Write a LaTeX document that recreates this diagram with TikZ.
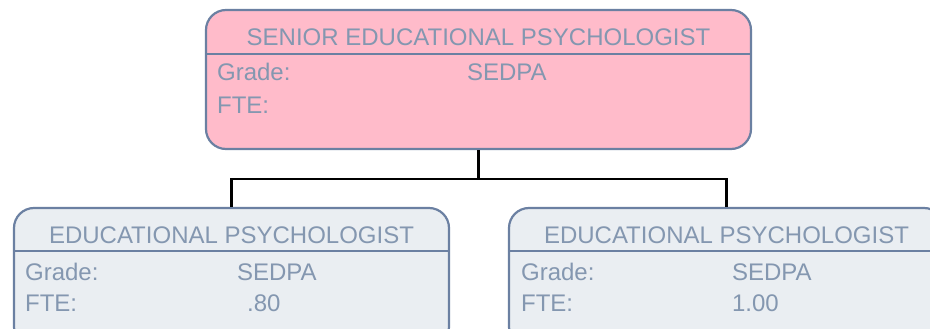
\documentclass[tikz,border=0pt]{standalone}
\usepackage{fontspec}
\setmainfont{Liberation Sans}
\usetikzlibrary{positioning}
\definecolor{postborder}{HTML}{6B80A2}
\definecolor{posttext}{HTML}{8497B0}
\definecolor{seniorfill}{HTML}{FFBBCA}
\definecolor{stafffill}{HTML}{EAEEF2}

\begin{document}
\begin{tikzpicture}[x=1pt,y=-1pt,
post/.style={draw=postborder,line width=2.2pt,rounded corners=20pt,inner sep=0pt,minimum height=139pt},
sep/.style={draw=postborder,line width=2.2pt},
title/.style={text=posttext,font=\fontsize{24}{28}\selectfont,inner sep=0pt,anchor=base},
field/.style={text=posttext,font=\fontsize{24}{28}\selectfont,inner sep=0pt,anchor=base west},
link/.style={draw=black,line width=2.4pt}
]
\useasboundingbox (0,0) rectangle (930,329);
% boxes
\node[post,fill=seniorfill,minimum width=545pt] (senior) at (478.5,79.5) {};
\node[post,fill=stafffill,minimum width=435pt] (leftpost) at (231.5,277.5) {};
\node[post,fill=stafffill,minimum width=435pt] (rightpost) at (726.5,277.5) {};
\draw[sep] ([yshift=-45pt]senior.north west) -- ([yshift=-45pt]senior.north east);
\draw[sep] ([yshift=-44pt]leftpost.north west) -- ([yshift=-44pt]leftpost.north east);
\draw[sep] ([yshift=-44pt]rightpost.north west) -- ([yshift=-44pt]rightpost.north east);
% senior post
\node[title] (seniortitle) at ([yshift=-37pt]senior.north) {SENIOR EDUCATIONAL PSYCHOLOGIST};
\node[field] (seniorgrade) at ([xshift=12pt,yshift=-72pt]senior.north west) {Grade:};
\node[field] (seniorgradeval) at ([xshift=262pt,yshift=-72pt]senior.north west) {SEDPA};
\node[field] (seniorfte) at ([xshift=12pt,yshift=-105pt]senior.north west) {FTE:};
% educational psychologists
\node[title] (lefttitle) at ([yshift=-37pt]leftpost.north) {EDUCATIONAL PSYCHOLOGIST};
\node[field] (leftgrade) at ([xshift=12pt,yshift=-74pt]leftpost.north west) {Grade:};
\node[field] (leftgradeval) at ([xshift=224pt,yshift=-74pt]leftpost.north west) {SEDPA};
\node[field] (leftfte) at ([xshift=12pt,yshift=-105pt]leftpost.north west) {FTE:};
\node[field] (leftfteval) at ([xshift=234pt,yshift=-105pt]leftpost.north west) {.80};
\node[title] (righttitle) at ([yshift=-37pt]rightpost.north) {EDUCATIONAL PSYCHOLOGIST};
\node[field] (rightgrade) at ([xshift=13pt,yshift=-74pt]rightpost.north west) {Grade:};
\node[field] (rightgradeval) at ([xshift=224pt,yshift=-74pt]rightpost.north west) {SEDPA};
\node[field] (rightfte) at ([xshift=13pt,yshift=-105pt]rightpost.north west) {FTE:};
\node[field] (rightfteval) at ([xshift=224pt,yshift=-105pt]rightpost.north west) {1.00};
% reporting lines
\coordinate (branch) at ([yshift=-29pt]senior.south);
\draw[link] (senior.south) -- (branch);
\draw[link] (branch) -| (leftpost.north);
\draw[link] (branch) -| (rightpost.north);
\end{tikzpicture}
\end{document}
